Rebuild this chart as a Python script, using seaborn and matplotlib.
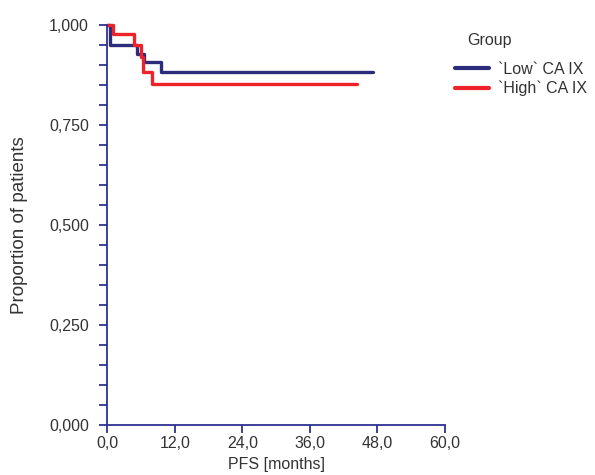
import pandas as pd
import matplotlib
matplotlib.use('Agg')
import matplotlib.pyplot as plt
import seaborn as sns
from matplotlib.ticker import MultipleLocator, FuncFormatter

# Curvas de Kaplan-Meier (meses, proporção)
tempo_low = [0.0, 0.5, 5.3, 6.5, 9.6, 47.2]
prop_low = [1.000, 0.951, 0.929, 0.907, 0.883, 0.883]
tempo_high = [0.0, 1.0, 4.7, 6.0, 6.4, 8.0, 44.3]
prop_high = [1.000, 0.979, 0.951, 0.920, 0.883, 0.854, 0.854]
grupos = ["`Low` CA IX", "`High` CA IX"]
cores = ["#2b2d7c", "#ee2229"]

dados = pd.concat([
    pd.DataFrame({'PFS': tempo_low, 'prop': prop_low, 'Group': grupos[0]}),
    pd.DataFrame({'PFS': tempo_high, 'prop': prop_high, 'Group': grupos[1]}),
], ignore_index=True)

sns.set_theme(style="white")
plt.rcParams['font.family'] = ['Liberation Sans', 'DejaVu Sans']

fig = plt.figure(figsize=(5.95, 4.75), dpi=100)
ax = fig.add_axes([0.180, 0.105, 0.568, 0.842])

sns.lineplot(data=dados, x='PFS', y='prop', hue='Group', hue_order=grupos,
             palette=cores, drawstyle='steps-post', estimator=None, sort=False,
             linewidth=2.4, ax=ax, clip_on=False, legend=False)

azul = "#2e3192"
texto = '#333333'
ax.set_xlim(0, 60)
ax.set_ylim(0, 1.0)
ax.xaxis.set_major_locator(MultipleLocator(12))
ax.yaxis.set_major_locator(MultipleLocator(0.25))
ax.yaxis.set_minor_locator(MultipleLocator(0.05))
ax.xaxis.set_major_formatter(FuncFormatter(lambda v, p: f"{v:.1f}".replace('.', ',')))
ax.yaxis.set_major_formatter(FuncFormatter(lambda v, p: f"{v:.3f}".replace('.', ',')))

for s in ['top', 'right']:
    ax.spines[s].set_visible(False)
for s in ['left', 'bottom']:
    ax.spines[s].set_color(azul)
    ax.spines[s].set_linewidth(1.3)

ax.tick_params(axis='both', which='both', direction='out', color=azul,
               labelcolor=texto, labelsize=11.5, width=1.3, length=6,
               bottom=True, left=True)
ax.tick_params(axis='x', which='minor', bottom=False)
ax.tick_params(axis='x', pad=2)
ax.tick_params(axis='y', pad=7)

ax.set_xlabel('PFS [months]', fontsize=11.5, color=texto, labelpad=4)
ax.set_ylabel('Proportion of patients', fontsize=13.5, color=texto, labelpad=15)

# Legenda manual fora do gráfico
fig.text(467 / 595, 1 - 41 / 475, 'Group', fontsize=11.5, color=texto, va='center')
handles = [plt.Line2D([], [], color=c, lw=3) for c in cores]
fig.legend(handles, grupos, loc='upper left', bbox_to_anchor=(455 / 595, 1 - 62 / 475),
           frameon=False, fontsize=11.5, handlelength=2.1, handletextpad=0.6,
           labelspacing=0.25, borderpad=0, borderaxespad=0, labelcolor=texto)

fig.savefig('out.png', dpi=100)
